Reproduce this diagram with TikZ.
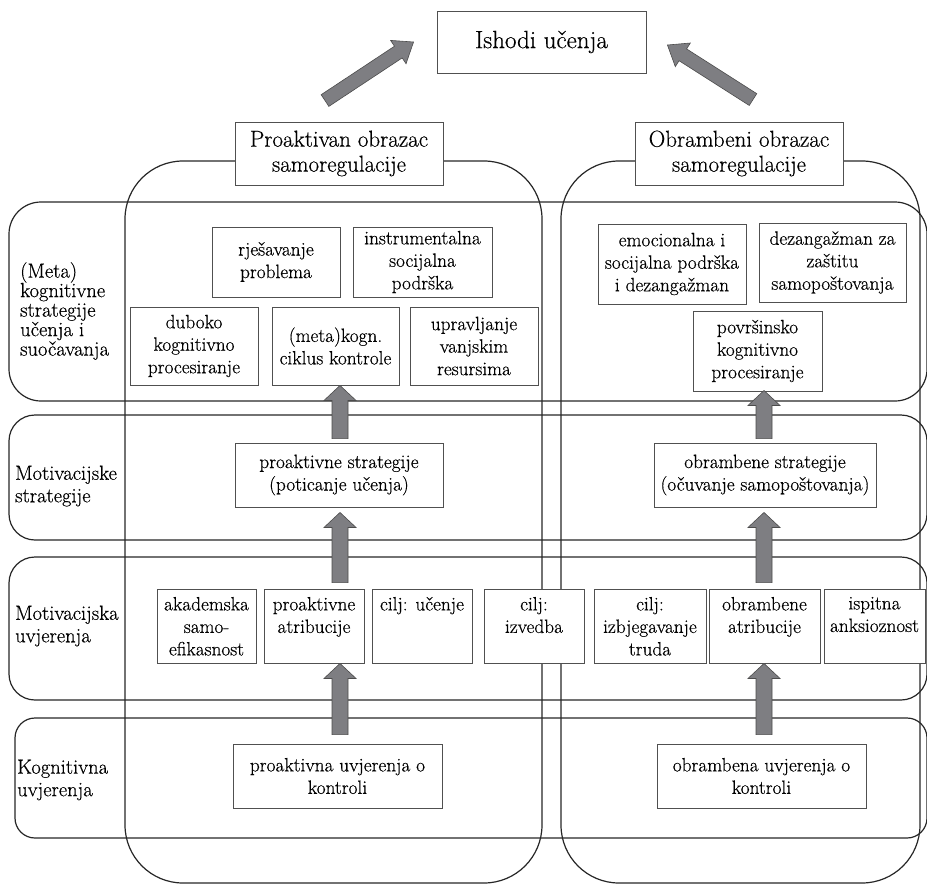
\documentclass[tikz,border=0pt]{standalone}
\usepackage{fontspec}
\setmainfont{Latin Modern Roman}[FakeBold=0.45]
\usetikzlibrary{calc}

\definecolor{arrowgray}{RGB}{126,126,130}
\definecolor{framegray}{RGB}{38,38,38}
\definecolor{boxgray}{RGB}{80,80,80}

\pgfdeclarelayer{bg}
\pgfsetlayers{bg,main}

\tikzset{
  frame/.style={draw=framegray, line width=1.2pt},
  textbox/.style={draw=boxgray, fill=white, line width=0.9pt, inner sep=0pt,
    font=\fontsize{19.3}{22.5}\selectfont},
  headbox/.style={textbox, font=\fontsize{23}{25}\selectfont},
  rowlabel/.style={anchor=west, inner sep=0pt, align=left,
    font=\fontsize{20.5}{22.5}\selectfont},
  blockarrow/.style={fill=arrowgray, draw=black!70, line width=0.6pt, line join=miter},
}

% block arrow from #1 to #2: shaft width #3, head width #4, head length #5
\newcommand\blockarrow[5]{%
  \draw[blockarrow] let \p1=(#1), \p2=(#2),
    \n1={atan2(\y2-\y1,\x2-\x1)},
    \n2={veclen(\x2-\x1,\y2-\y1)-#5} in
    ($(\p1)+(\n1+90:#3/2)$)
    -- ($(\p1)+(\n1:\n2*1pt)+(\n1+90:#3/2)$)
    -- ($(\p1)+(\n1:\n2*1pt)+(\n1+90:#4/2)$)
    -- (\p2)
    -- ($(\p1)+(\n1:\n2*1pt)+(\n1-90:#4/2)$)
    -- ($(\p1)+(\n1:\n2*1pt)+(\n1-90:#3/2)$)
    -- ($(\p1)+(\n1-90:#3/2)$) -- cycle;}

% framed text box: name, x1, y1, x2, y2, vertical alignment, text
\newcommand\tbox[8][textbox]{%
  \node[#1] (#2) at ({(#3+#5)/2},{(#4+#6)/2})
    {\parbox[c][\dimexpr#6pt-#4pt\relax][#7]{\dimexpr#5pt-#3pt\relax}{\centering#8}};}

\newcommand\boxtoppad{\vspace*{8pt}}

\begin{document}
\begin{tikzpicture}[x=1pt, y=-1pt]
\useasboundingbox (0,0) rectangle (927,884);

% ---- boxes ----
\tbox[headbox]{ishodi}{437}{11}{646}{73}{c}{\fontsize{25}{28}\selectfont Ishodi učenja}
\tbox[headbox]{proHead}{235}{122}{443}{185}{c}{Proaktivan obrazac\\samoregulacije}
\tbox[headbox]{obrHead}{635}{122}{843}{185}{c}{Obrambeni obrazac\\samoregulacije}

\tbox{rjes}{212}{227}{340}{297}{c}{rješavanje\\problema}
\tbox{instr}{353}{227}{492}{297}{c}{instrumentalna\\socijalna\\podrška}
\tbox{dub}{130}{307}{258}{385}{c}{duboko\\kognitivno\\procesiranje}
\tbox{meta}{272}{307}{399}{385}{c}{(meta)kogn.\\ciklus kontrole}
\tbox{uprav}{410}{307}{538}{385}{c}{upravljanje\\vanjskim\\resursima}
\tbox{emoc}{598}{224}{746}{304}{c}{emocionalna i\\socijalna podrška\\i dezangažman}
\tbox{dezang}{759}{223}{906}{302}{c}{dezangažman za\\zaštitu\\samopoštovanja}
\tbox{povrs}{693}{311}{822}{391}{c}{površinsko\\kognitivno\\procesiranje}

\tbox{proStrat}{235}{443}{443}{507}{c}{proaktivne strategije\\(poticanje učenja)}
\tbox{obrStrat}{654}{443}{876}{507}{c}{obrambene strategije\\(očuvanje samopoštovanja)}

\tbox{akad}{157}{589}{256}{663}{t}{\boxtoppad akademska\\samo-\\efikasnost}
\tbox{proAtr}{264}{589}{364}{663}{t}{\boxtoppad proaktivne\\atribucije}
\tbox{ciljU}{372}{589}{472}{663}{t}{\boxtoppad cilj: učenje}
\tbox{ciljI}{484}{589}{584}{663}{t}{\boxtoppad cilj:\\izvedba}
\tbox{ciljT}{594}{589}{706}{663}{t}{\boxtoppad cilj:\\izbjegavanje\\truda}
\tbox{obrAtr}{709}{589}{820}{663}{t}{\boxtoppad obrambene\\atribucije}
\tbox{ispit}{824}{589}{925}{663}{t}{\boxtoppad ispitna\\anksioznost}

\tbox{proUv}{233}{744}{442}{808}{c}{proaktivna uvjerenja o\\kontroli}
\tbox{obrUv}{657}{744}{866}{808}{c}{obrambena uvjerenja o\\kontroli}

% ---- row labels ----
\node[rowlabel, font=\fontsize{20.5}{19.5}\selectfont] (labMeta) at (20,311)
  {(Meta)\\kognitivne\\strategije\\učenja i\\suočavanja};
\node[rowlabel] (labMotS) at (15,486) {Motivacijske\\strategije};
\node[rowlabel] (labMotU) at (15,626) {Motivacijska\\uvjerenja};
\node[rowlabel] (labKog) at (17,780) {Kognitivna\\uvjerenja};

% ---- rows and pattern columns ----
\begin{pgfonlayer}{bg}
  \draw[frame, rounded corners=32pt] (9,202) rectangle (927,401);
  \draw[frame, rounded corners=26pt] (9,415) rectangle (927,540);
  \draw[frame, rounded corners=26pt] (9,557) rectangle (927,700);
  \draw[frame, rounded corners=20pt] (15,718) rectangle (927,838);
  \draw[frame, rounded corners=58pt] (125,161) rectangle (542,883);
  \draw[frame, rounded corners=58pt] (561,161) rectangle (920,883);
\end{pgfonlayer}

% ---- arrows ----
\coordinate (axL) at (340,0);
\coordinate (axR) at (764,0);

\coordinate (pa1) at ($(proUv.north -| axL)+(0,-9)$);
\coordinate (pa2) at (proAtr.south -| axL);
\coordinate (pb1) at ($(proAtr.north -| axL)+(0,-6)$);
\coordinate (pb2) at ($(proStrat.south -| axL)+(0,5)$);
\coordinate (pc1) at ($(proStrat.north -| axL)+(0,-4)$);
\coordinate (pc2) at (meta.south -| axL);

\coordinate (oa1) at ($(obrUv.north -| axR)+(0,-9)$);
\coordinate (oa2) at (obrAtr.south -| axR);
\coordinate (ob1) at ($(obrAtr.north -| axR)+(0,-6)$);
\coordinate (ob2) at ($(obrStrat.south -| axR)+(0,5)$);
\coordinate (oc1) at ($(obrStrat.north -| axR)+(0,-4)$);
\coordinate (oc2) at ($(povrs.south -| axR)+(0,-1)$);

\blockarrow{pa1}{pa2}{16pt}{32pt}{15pt}
\blockarrow{pb1}{pb2}{16pt}{32pt}{15pt}
\blockarrow{pc1}{pc2}{16pt}{32pt}{15pt}
\blockarrow{oa1}{oa2}{16pt}{32pt}{15pt}
\blockarrow{ob1}{ob2}{16pt}{32pt}{15pt}
\blockarrow{oc1}{oc2}{16pt}{32pt}{15pt}

\coordinate (dl1) at ($(proHead.north)+(-14,-21)$);
\coordinate (dl2) at ($(ishodi.west)+(-23,0)$);
\coordinate (dr1) at ($(obrHead.north)+(14,-22)$);
\coordinate (dr2) at ($(ishodi.east)+(21,3)$);
\blockarrow{dl1}{dl2}{14pt}{28pt}{18pt}
\blockarrow{dr1}{dr2}{14pt}{28pt}{18pt}

\end{tikzpicture}
\end{document}
